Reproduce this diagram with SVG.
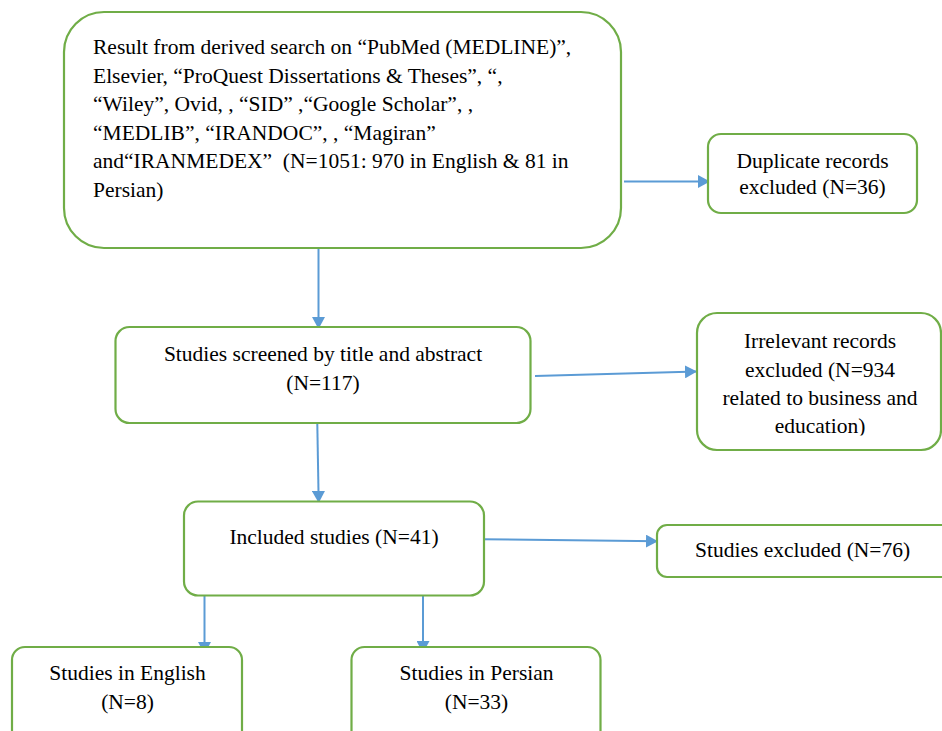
<svg xmlns="http://www.w3.org/2000/svg" width="942" height="731" viewBox="0 0 942 731">
<style>
.box{fill:#fff;stroke:#70ad47;stroke-width:2.2}
.t{font-family:"Liberation Serif","Times New Roman",serif;font-size:21.5px;fill:#000}
.c{text-anchor:middle}
.conn{stroke:#5b9bd5;stroke-width:2;fill:none;marker-end:url(#ah)}
</style>
<defs>
<marker id="ah" markerUnits="userSpaceOnUse" markerWidth="13" markerHeight="13" refX="12" refY="6.5" orient="auto">
<path d="M0,0 L12,6.5 L0,13 z" fill="#5b9bd5"/>
</marker>
<clipPath id="clipIrr"><rect x="690" y="300" width="260" height="135.5"/></clipPath>
</defs>
<rect width="942" height="731" fill="#fff"/>
<g id="connectors">
<line class="conn" x1="624" y1="181.5" x2="710" y2="181.5"/>
<line class="conn" x1="318.5" y1="249" x2="318.5" y2="329"/>
<line class="conn" x1="535" y1="376" x2="697" y2="371.5"/>
<line class="conn" x1="317.3" y1="424" x2="318.7" y2="503"/>
<line class="conn" x1="482" y1="539.3" x2="658" y2="541.3"/>
<line class="conn" x1="204.5" y1="596" x2="204.5" y2="654"/>
<line class="conn" x1="423" y1="596" x2="423" y2="653"/>
</g>
<g id="search">
<rect class="box" x="64" y="12" width="557" height="236" rx="40"/>
<text class="t" x="93" y="54">Result from derived search on “PubMed (MEDLINE)”,</text>
<text class="t" x="93" y="82.5">Elsevier, “ProQuest Dissertations &amp; Theses”, “,</text>
<text class="t" x="93" y="111">“Wiley”, Ovid, , “SID” ,“Google Scholar”, ,</text>
<text class="t" x="93" y="139.5">“MEDLIB”, “IRANDOC”, , “Magiran”</text>
<text class="t" x="93" y="168" xml:space="preserve">and“IRANMEDEX”  (N=1051: 970 in English &amp; 81 in</text>
<text class="t" x="93" y="196.5">Persian)</text>
</g>
<g id="duplicates">
<rect class="box" x="708" y="134" width="209" height="79" rx="13"/>
<text class="t c" x="812.5" y="168">Duplicate records</text>
<text class="t c" x="812.5" y="194">excluded (N=36)</text>
</g>
<g id="screened">
<rect class="box" x="115.5" y="327" width="415" height="96" rx="14"/>
<text class="t c" x="323" y="361">Studies screened by title and abstract</text>
<text class="t c" x="323" y="390">(N=117)</text>
</g>
<g id="irrelevant">
<rect class="box" x="697" y="313" width="244" height="137" rx="20"/>
<g clip-path="url(#clipIrr)">
<text class="t c" x="820" y="348">Irrelevant records</text>
<text class="t c" x="820" y="377">excluded (N=934</text>
<text class="t c" x="820" y="405">related to business and</text>
<text class="t c" x="820" y="433">education)</text>
</g>
</g>
<g id="included">
<rect class="box" x="184" y="501.5" width="300" height="94" rx="14"/>
<text class="t c" x="334" y="543.5">Included studies (N=41)</text>
</g>
<g id="excluded">
<rect class="box" x="657" y="525" width="300" height="52" rx="10"/>
<text class="t" x="695" y="556.5">Studies excluded (N=76)</text>
</g>
<g id="english">
<rect class="box" x="12" y="647" width="230" height="100" rx="13"/>
<text class="t c" x="127.5" y="680">Studies in English</text>
<text class="t c" x="127.5" y="709">(N=8)</text>
</g>
<g id="persian">
<rect class="box" x="351.5" y="647" width="249" height="100" rx="13"/>
<text class="t c" x="476.5" y="680">Studies in Persian</text>
<text class="t c" x="476.5" y="709">(N=33)</text>
</g>
</svg>
